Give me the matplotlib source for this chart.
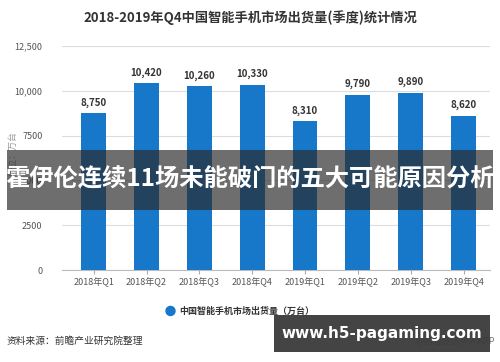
import matplotlib.pyplot as plt
import matplotlib.patches as patches
import numpy as np

plt.rcParams['font.family'] = ['Noto Sans CJK SC', 'DejaVu Sans']

quarters = ['2018年Q1', '2018年Q2', '2018年Q3', '2018年Q4',
            '2019年Q1', '2019年Q2', '2019年Q3', '2019年Q4']
shipments = [8750, 10420, 10260, 10330, 8310, 9790, 9890, 8620]
yticks = [0, 2500, 5000, 7500, 10000, 12500]
ytick_labels = ['0', '2500', '5000', '7500', '10,000', '12,500']

title = '2018-2019年Q4中国智能手机市场出货量(季度)统计情况'
legend_label = '中国智能手机市场出货量（万台）'
source = '资料来源：前瞻产业研究院整理'
overlay = '霍伊伦连续11场未能破门的五大可能原因分析'
site = 'www.h5-pagaming.com'

bar_color = '#1777c9'

fig = plt.figure(figsize=(5, 3.62), dpi=100)
fig.patch.set_facecolor('white')
ax = fig.add_axes([0.124, 0.254, 0.856, 0.619])

x = np.arange(len(quarters))
ax.bar(x, shipments, width=0.47, color=bar_color, zorder=3,
       label=legend_label)
for xi, v in zip(x, shipments):
    ax.text(xi, v + 300, f'{v:,}', ha='center', va='bottom',
            fontsize=7, fontweight='bold', color='#333333')

ax.set_xlim(-0.6, 7.5)
ax.set_ylim(0, 12500)
ax.set_yticks(yticks)
ax.set_yticklabels(ytick_labels)
ax.set_xticks(x)
ax.set_xticklabels(quarters)
ax.tick_params(axis='y', length=0, labelsize=6.5, labelcolor='#555555', pad=14)
ax.tick_params(axis='x', length=3, color='#aaaaaa', labelsize=6.5,
               labelcolor='#555555', pad=2)
ax.grid(axis='y', color='#dddddd', linewidth=0.8, zorder=0)
for s in ['top', 'right', 'left']:
    ax.spines[s].set_visible(False)
ax.spines['bottom'].set_color('#bbbbbb')

fig.text(0.5, 0.952, title, ha='center', va='center', fontsize=9.5,
         fontweight='bold', color='#333333')
fig.text(0.026, 0.575, '单位：万台', rotation=90, ha='center', va='center',
         fontsize=6.5, color='#999999')

# legend
fig.patches.append(patches.Ellipse((0.341, 0.141), 0.018, 0.025,
                                   transform=fig.transFigure,
                                   color=bar_color, figure=fig))
fig.text(0.358, 0.141, legend_label, ha='left', va='center',
         fontsize=6.5, fontweight='bold', color='#333333')

fig.text(0.014, 0.058, source, ha='left', va='center', fontsize=7,
         color='#333333')
fig.text(0.99, 0.058, '@前瞻经济学人APP', ha='right', va='center',
         fontsize=6.5, color='#777777')

# overlay banner
fig.patches.append(patches.Rectangle((0.014, 0.42), 0.972, 0.166,
                                     transform=fig.transFigure,
                                     facecolor='#2a2a2a', alpha=0.68,
                                     edgecolor='none', figure=fig, zorder=5))
fig.text(0.5, 0.503, overlay, ha='center', va='center', fontsize=17.5,
         fontweight='bold', color='white', zorder=6)

# site box
fig.patches.append(patches.Rectangle((0.548, 0.028), 0.432, 0.102,
                                     transform=fig.transFigure,
                                     facecolor='#3a3a3a', alpha=0.95,
                                     edgecolor='none', figure=fig, zorder=5))
fig.text(0.764, 0.079, site, ha='center', va='center', fontsize=11,
         fontweight='bold', color='white', family='DejaVu Sans', zorder=6)

fig.savefig('out.png', dpi=100)
